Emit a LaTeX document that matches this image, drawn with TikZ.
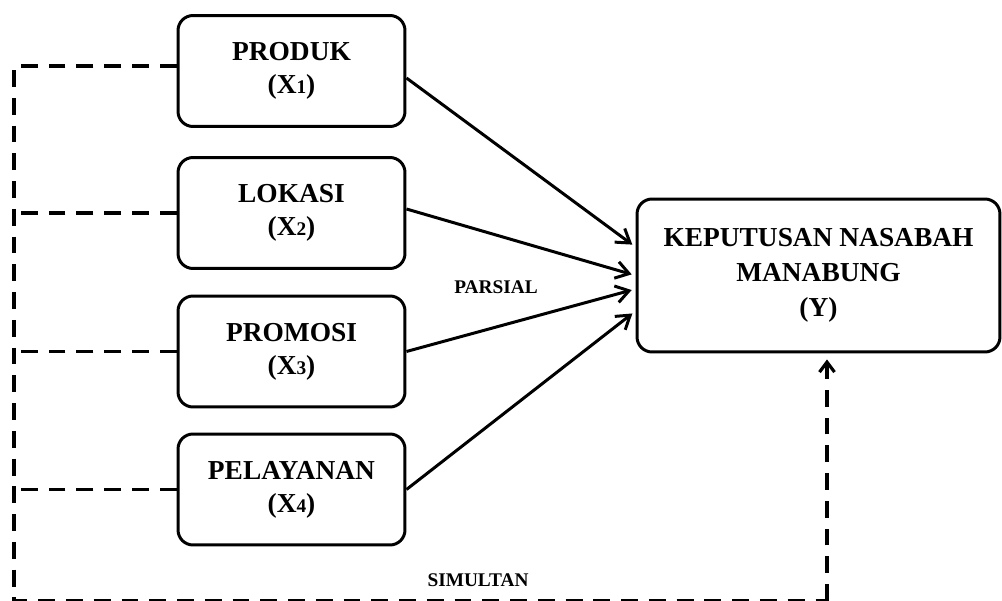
\documentclass[tikz,border=0pt]{standalone}
\usepackage{fontspec}
\setmainfont{Liberation Serif}
\usetikzlibrary{arrows.meta, positioning}

\newcommand\varnum[1]{{\fontsize{11}{11}\selectfont #1}}

\begin{document}
\begin{tikzpicture}[x=0.02cm, y=-0.02cm,
    var/.style={draw, line width=1.7pt, rounded corners=0.3cm, align=center,
        inner sep=0pt, minimum width=4.54cm, minimum height=2.22cm,
        font=\fontsize{15.6}{18.8}\selectfont\bfseries},
    parsial/.style={line width=1.7pt, shorten >=0.08cm,
        -{Straight Barb[length=0.26cm, width=0.34cm]}},
    simul/.style={line width=1.8pt, dash pattern=on 9.6pt off 6.2pt},
    lbl/.style={font=\fontsize{11}{11}\selectfont\bfseries, inner sep=0pt}]
    \useasboundingbox (0,0) rectangle (1002,601);

    \node[var] (prod) at (291.5,71) {PRODUK\\(X\varnum{1})};
    \node[var] (lok) at (291.5,213) {LOKASI\\(X\varnum{2})};
    \node[var] (prom) at (291.5,351.5) {PROMOSI\\(X\varnum{3})};
    \node[var] (pel) at (291.5,489.5) {PELAYANAN\\(X\varnum{4})};
    \node[var, minimum width=7.26cm, minimum height=3.06cm,
        font=\fontsize{15.6}{20}\selectfont\bfseries] (kep) at (818.5,275.5)
        {KEPUTUSAN NASABAH\\MANABUNG\\(Y)};

    \node[lbl] (par) at (496,287) {PARSIAL};
    \node[lbl] (sim) at (478,580) {SIMULTAN};

    \draw[parsial] ([yshift=-0.14cm]prod.east) -- ([yshift=0.57cm]kep.west);
    \draw[parsial] ([yshift=0.08cm]lok.east) -- (kep.west);
    \draw[parsial] (prom.east) -- ([yshift=-0.27cm]kep.west);
    \draw[parsial] (pel.east) -- ([yshift=-0.71cm]kep.west);

    \coordinate (bl) at (14,601);
    \coordinate (br) at (827,601);
    \draw[simul] ([yshift=0.1cm]prod.west) -| (bl) -- (br);
    \draw[simul] (lok.west) -- (lok.west -| bl);
    \draw[simul] (prom.west) -- (prom.west -| bl);
    \draw[simul] (pel.west) -- (pel.west -| bl);
    \draw[simul, shorten >=0.12cm, -{Straight Barb[length=0.2cm, width=0.3cm]}]
        (br) -- (br |- kep.south);
\end{tikzpicture}
\end{document}
